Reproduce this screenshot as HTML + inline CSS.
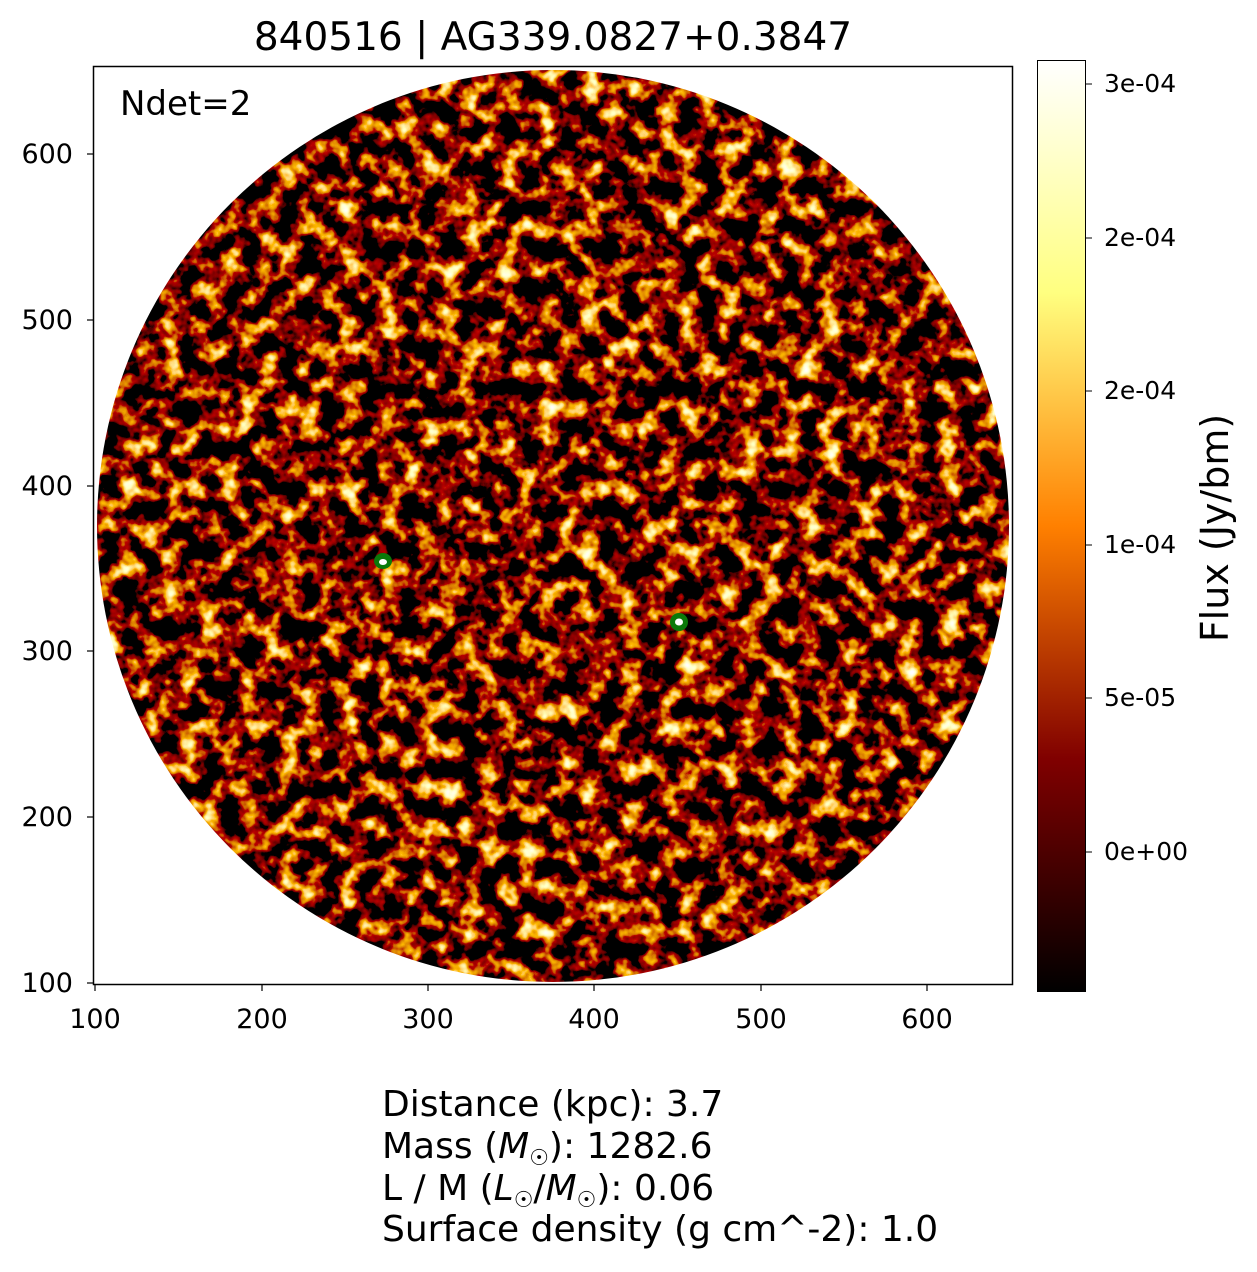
<!DOCTYPE html>
<html><head><meta charset="utf-8"><style>
html,body{margin:0;padding:0;background:#fff;}
svg text{font-family:"DejaVu Sans","Liberation Sans",sans-serif;fill:#000;}
</style></head><body>
<svg width="1257" height="1267" viewBox="0 0 1257 1267" xmlns="http://www.w3.org/2000/svg">
<defs>
<filter id="noise" x="0" y="0" width="100%" height="100%" filterUnits="userSpaceOnUse">
<feTurbulence type="fractalNoise" baseFrequency="0.05" numOctaves="3" seed="7" result="t"/>
<feColorMatrix in="t" type="matrix" values="1 0 0 0 0  1 0 0 0 0  1 0 0 0 0  0 0 0 0 1"/>
<feComponentTransfer>
<feFuncR type="linear" slope="4.2" intercept="-1.85"/>
<feFuncG type="linear" slope="4.2" intercept="-2.35"/>
<feFuncB type="linear" slope="4.2" intercept="-2.85"/>
<feFuncA type="linear" slope="0" intercept="1"/>
</feComponentTransfer>
</filter>
<clipPath id="circ"><circle cx="553" cy="526" r="456"/></clipPath>
<linearGradient id="cb" x1="0" y1="1" x2="0" y2="0">
<stop offset="0" stop-color="#000"/>
<stop offset="0.25" stop-color="#800000"/>
<stop offset="0.5" stop-color="#ff8000"/>
<stop offset="0.75" stop-color="#ffff80"/>
<stop offset="1" stop-color="#fff"/>
</linearGradient>
</defs>
<text x="553" y="50" font-size="39" text-anchor="middle">840516 | AG339.0827+0.3847</text>
<g clip-path="url(#circ)">
<rect x="93" y="66" width="920" height="919" fill="#000" filter="url(#noise)"/>
</g>
<rect x="93.5" y="66.5" width="919" height="918" fill="none" stroke="#000" stroke-width="1.5"/>
<text x="120" y="115" font-size="34">Ndet=2</text>
<ellipse cx="383" cy="561" rx="9" ry="8" fill="#0a7a0a"/>
<ellipse cx="383" cy="562" rx="4" ry="3" fill="#fff"/>
<ellipse cx="679" cy="622" rx="9" ry="9" fill="#0a7a0a"/>
<ellipse cx="679" cy="622" rx="4" ry="3.5" fill="#fff"/>
<g stroke="#000" stroke-width="1.2">
<line x1="95" y1="985" x2="95" y2="991"/><line x1="262" y1="985" x2="262" y2="991"/>
<line x1="428" y1="985" x2="428" y2="991"/><line x1="594" y1="985" x2="594" y2="991"/>
<line x1="761" y1="985" x2="761" y2="991"/><line x1="927" y1="985" x2="927" y2="991"/>
<line x1="87" y1="983" x2="93" y2="983"/><line x1="87" y1="817" x2="93" y2="817"/>
<line x1="87" y1="651" x2="93" y2="651"/><line x1="87" y1="486" x2="93" y2="486"/>
<line x1="87" y1="320" x2="93" y2="320"/><line x1="87" y1="154" x2="93" y2="154"/>
</g>
<g font-size="27" text-anchor="middle">
<text x="95" y="1028">100</text><text x="262" y="1028">200</text><text x="428" y="1028">300</text>
<text x="594" y="1028">400</text><text x="761" y="1028">500</text><text x="927" y="1028">600</text>
</g>
<g font-size="27" text-anchor="end">
<text x="73" y="992">100</text><text x="73" y="826">200</text><text x="73" y="660">300</text>
<text x="73" y="495">400</text><text x="73" y="329">500</text><text x="73" y="163">600</text>
</g>
<rect x="1037" y="60" width="49" height="932" fill="url(#cb)"/>
<rect x="1037.5" y="60.5" width="48" height="931" fill="none" stroke="#000" stroke-width="1"/>
<g stroke="#000" stroke-width="1">
<line x1="1086" y1="84" x2="1092" y2="84"/><line x1="1086" y1="238" x2="1092" y2="238"/>
<line x1="1086" y1="391" x2="1092" y2="391"/><line x1="1086" y1="545" x2="1092" y2="545"/>
<line x1="1086" y1="698" x2="1092" y2="698"/><line x1="1086" y1="852" x2="1092" y2="852"/>
</g>
<g font-size="25">
<text x="1104" y="92">3e-04</text><text x="1104" y="246">2e-04</text><text x="1104" y="399">2e-04</text>
<text x="1104" y="553">1e-04</text><text x="1104" y="706">5e-05</text><text x="1104" y="860">0e+00</text>
</g>
<text transform="translate(1228,528) rotate(-90)" font-size="38" text-anchor="middle">Flux (Jy/bm)</text>
<g font-size="36">
<text x="382" y="1116">Distance (kpc): 3.7</text>
<text x="382" y="1158">Mass (<tspan font-style="italic">M</tspan><tspan font-size="22" dy="7">☉</tspan><tspan dy="-7">): 1282.6</tspan></text>
<text x="382" y="1200">L / M (<tspan font-style="italic">L</tspan><tspan font-size="22" dy="7">☉</tspan><tspan dy="-7">/</tspan><tspan font-style="italic">M</tspan><tspan font-size="22" dy="7">☉</tspan><tspan dy="-7">): 0.06</tspan></text>
<text x="382" y="1241">Surface density (g cm^-2): 1.0</text>
</g>
</svg>
</body></html>
